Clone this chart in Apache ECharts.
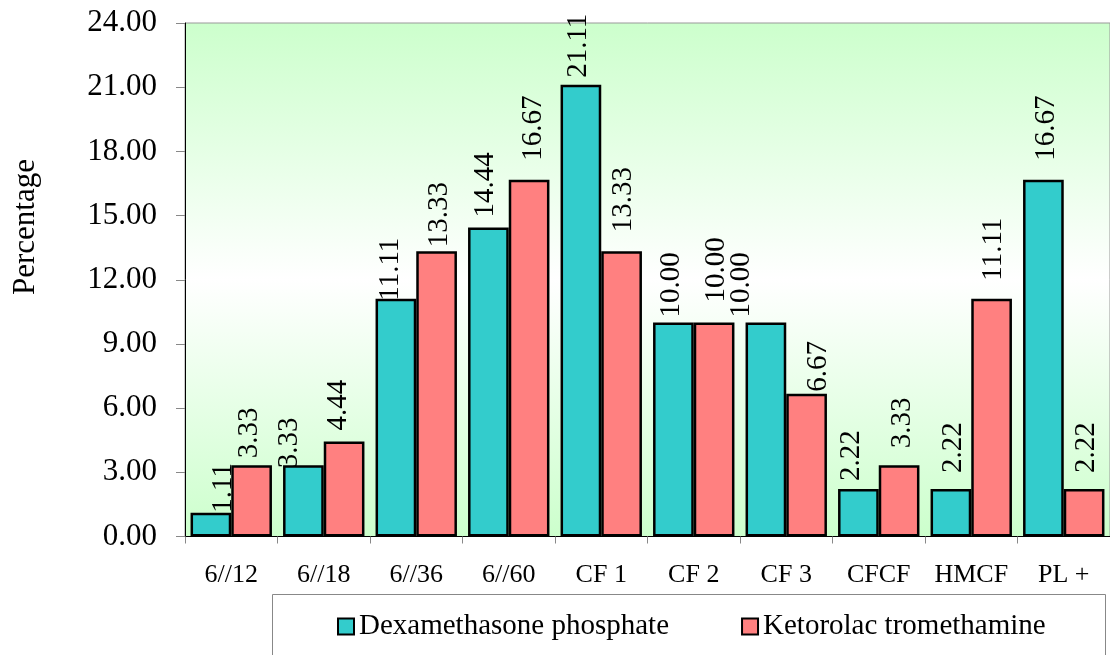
<!DOCTYPE html>
<html><head><meta charset="utf-8">
<script src="https://cdn.jsdelivr.net/npm/echarts@6/dist/echarts.min.js"></script>
<style>html,body{margin:0;padding:0;background:#fff}#c{width:1110px;height:655px}</style>
</head><body><div id="c"></div>
<script>
// ---- data ----
const categories = ['6//12', '6//18', '6//36', '6//60', 'CF 1', 'CF 2', 'CF 3', 'CFCF', 'HMCF', 'PL +'];
const dexamethasone = [1.11, 3.33, 11.11, 14.44, 21.11, 10.00, 10.00, 2.22, 2.22, 16.67];
const ketorolac = [3.33, 4.44, 13.33, 16.67, 13.33, 10.00, 6.67, 3.33, 11.11, 2.22];
const seriesNames = ['Dexamethasone phosphate', 'Ketorolac tromethamine'];
const yMin = 0, yMax = 24, yStep = 3;
const yTitle = 'Percentage';

// ---- label placement tweaks (style only): [dx, gap] relative to each bar top ----
const dexLabelNudge = [[10,0],[-16,-3],[-8,-2],[-5,10],[-5,7],[-4,5],[-27,5],[-9,8],[0,16],[1,19]];
const ketLabelNudge = [[-4,7],[-8,11],[1,4],[2,19],[0,19],[0,20],[10,2],[1,17],[0,18],[0,16]];

const FONT = 'Liberation Serif';
const TEAL = '#33CCCC', CORAL = '#FF8080';

// label is rotated 90deg, so its local offset [along-text, across-text] maps to screen [up, right]
function buildData(values, nudges) {
  return values.map((v, i) => ({
    value: v,
    label: { distance: nudges[i][1], offset: [0, nudges[i][0] + 2] }
  }));
}

const chart = echarts.init(document.getElementById('c'), null, {renderer: 'canvas'});
const labelBase = {
  show: true, position: 'top', rotate: 90, align: 'left', verticalAlign: 'middle',
  fontFamily: FONT, fontSize: 29, color: '#000',
  formatter: p => Number(p.value).toFixed(2)
};
chart.setOption({
  animation: false,
  backgroundColor: '#fff',
  grid: {
    left: 185, top: 23, width: 927, height: 513.5,
    show: true, borderColor: '#999', borderWidth: 1,
    backgroundColor: new echarts.graphic.LinearGradient(0, 0, 0, 1, [
      {offset: 0, color: '#CCFFCC'}, {offset: 0.5, color: '#FFFFFF'}, {offset: 1, color: '#CCFFCC'}
    ])
  },
  xAxis: {
    type: 'category', data: categories, boundaryGap: true,
    axisLine: {lineStyle: {color: '#000', width: 1}},
    axisTick: {show: true, length: 7, lineStyle: {color: '#888'}},
    axisLabel: {fontFamily: FONT, fontSize: 26, color: '#000', margin: 26, interval: 0},
    splitLine: {show: false}
  },
  yAxis: {
    type: 'value', min: yMin, max: yMax, interval: yStep,
    axisLine: {show: true, lineStyle: {color: '#000', width: 1}},
    axisTick: {show: true, length: 9, lineStyle: {color: '#888'}},
    axisLabel: {fontFamily: FONT, fontSize: 31, color: '#000', margin: 28,
      formatter: v => Number(v).toFixed(2)},
    splitLine: {show: false}
  },
  legend: {
    left: 337, top: 612, padding: 0,
    itemWidth: 16, itemHeight: 16, itemGap: 72, icon: 'rect',
    itemStyle: {borderColor: '#000', borderWidth: 2},
    textStyle: {fontFamily: FONT, fontSize: 29, color: '#000'},
    data: seriesNames
  },
  graphic: [
    {type: 'rect', left: 270, top: 592, shape: {width: 833, height: 80},
      style: {fill: 'none', stroke: '#888', lineWidth: 1}, silent: true, z: 0},
    {type: 'text', x: 26, y: 227, rotation: Math.PI / 2,
      style: {text: yTitle, fontFamily: FONT, fontSize: 31, fill: '#000',
        textAlign: 'center', textVerticalAlign: 'middle'}}
  ],
  series: [
    {name: seriesNames[0], type: 'bar', data: buildData(dexamethasone, dexLabelNudge),
      barGap: '0%', barCategoryGap: '12%',
      itemStyle: {color: TEAL, borderColor: '#000', borderWidth: 2.5},
      label: labelBase},
    {name: seriesNames[1], type: 'bar', data: buildData(ketorolac, ketLabelNudge),
      barGap: '0%', barCategoryGap: '12%',
      itemStyle: {color: CORAL, borderColor: '#000', borderWidth: 2.5},
      label: labelBase}
  ]
});
</script></body></html>
